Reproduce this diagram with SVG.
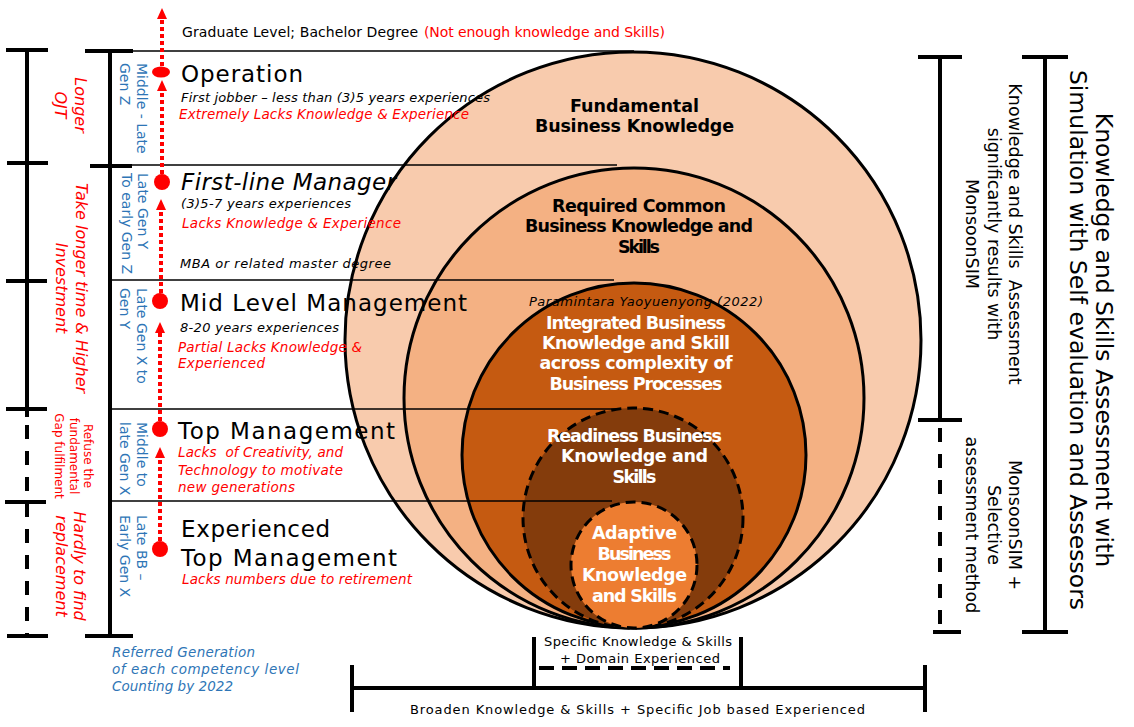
<svg xmlns="http://www.w3.org/2000/svg" width="1134" height="727" viewBox="0 0 1134 727">
<style>
text{font-family:"DejaVu Sans","Liberation Sans",sans-serif;}
.k{fill:#000}
.rd{fill:#FF0000}
.bl{fill:#2E75B6}
.it{font-style:italic}
.h{font-size:23px}
.s{font-size:13px}
.sr{font-size:13.5px}
.cl{font-size:17.5px;font-weight:bold;text-anchor:middle}
.wt{fill:#FFFFFF}
.br{stroke:#000;stroke-width:4;fill:none}
.dsh{stroke-dasharray:14 12}
.hl{stroke:#000;stroke-width:1.3;fill:none}
.circ{stroke:#000;stroke-width:3}
.dc{stroke-dasharray:10 6}
.arr{stroke:#FF0000;stroke-width:4;stroke-dasharray:4 3;fill:none;marker-end:url(#ah)}
.dot{fill:#FF0000}
</style>
<defs>
<marker id="ah" markerUnits="userSpaceOnUse" markerWidth="11" markerHeight="10" refX="0" refY="5" orient="auto"><path d="M0,0 L11,5 L0,10 z" fill="#FF0000"/></marker>
</defs>
<rect x="0" y="0" width="1134" height="727" fill="#FFFFFF"/>

<!-- concentric competency circles -->
<g id="circle-fundamental">
<circle class="circ" cx="633" cy="340" r="288" fill="#F8CBAD"/>
</g>
<g id="circle-required">
<circle class="circ" cx="634" cy="398" r="230" fill="#F4B183"/>
</g>
<g id="circle-integrated">
<circle class="circ" cx="634" cy="455" r="172" fill="#C55A11"/>
</g>
<g id="circle-readiness">
<circle class="circ dc" cx="633" cy="518" r="110" fill="#843C0C"/>
</g>
<g id="circle-adaptive">
<circle class="circ dc" cx="634" cy="565" r="63" fill="#ED7D31"/>
</g>

<!-- row separator lines -->
<g id="row-lines">
<line class="hl" x1="110" y1="51" x2="634" y2="51"/>
<line class="hl" x1="110" y1="165" x2="617" y2="165"/>
<line class="hl" x1="110" y1="280" x2="614" y2="280"/>
<line class="hl" x1="110" y1="409" x2="618" y2="409"/>
<line class="hl" x1="110" y1="501" x2="612" y2="501"/>
</g>

<!-- circle labels -->
<g id="label-fundamental">
<text class="cl k" x="634.5" y="112" textLength="129">Fundamental</text>
<text class="cl k" x="634.5" y="132" textLength="199">Business Knowledge</text>
</g>
<g id="label-required">
<text class="cl k" x="639" y="212" textLength="174">Required Common</text>
<text class="cl k" x="639" y="232" textLength="228">Business Knowledge and</text>
<text class="cl k" x="639" y="253" textLength="42">Skills</text>
</g>
<g id="label-citation">
<text class="k it" font-size="13" x="529" y="306" textLength="234">Paramintara Yaoyuenyong (2022)</text>
</g>
<g id="label-integrated">
<text class="cl wt" x="636" y="329" textLength="180">Integrated Business</text>
<text class="cl wt" x="636" y="349" textLength="188">Knowledge and Skill</text>
<text class="cl wt" x="636" y="369" textLength="193">across complexity of</text>
<text class="cl wt" x="636" y="390" textLength="173">Business Processes</text>
</g>
<g id="label-readiness">
<text class="cl wt" x="634.5" y="442" textLength="175">Readiness Business</text>
<text class="cl wt" x="634.5" y="462" textLength="147">Knowledge and</text>
<text class="cl wt" x="634.5" y="483" textLength="44">Skills</text>
</g>
<g id="label-adaptive">
<text class="cl wt" x="634.5" y="539" textLength="85">Adaptive</text>
<text class="cl wt" x="634.5" y="560" textLength="74">Business</text>
<text class="cl wt" x="634.5" y="581" textLength="105">Knowledge</text>
<text class="cl wt" x="634.5" y="602" textLength="85">and Skills</text>
</g>

<!-- left brackets -->
<g id="bracket-left-outer">
<line class="br" x1="27" y1="50" x2="27" y2="417"/>
<line class="br dsh" x1="27" y1="425" x2="27" y2="634"/>
<line class="br" x1="6" y1="50" x2="48" y2="50"/>
<line class="br" x1="7" y1="163" x2="48" y2="163"/>
<line class="br" x1="6" y1="281" x2="47" y2="281"/>
<line class="br" x1="6" y1="409" x2="47" y2="409"/>
<line class="br" x1="5" y1="502" x2="46" y2="502"/>
<line class="br" x1="7" y1="636" x2="48" y2="636"/>
</g>
<g id="bracket-left-inner">
<line class="br" x1="110" y1="51" x2="110" y2="636"/>
<line class="br" x1="85" y1="51" x2="133" y2="51"/>
<line class="br" x1="90" y1="166" x2="132" y2="166"/>
<line class="br" x1="85" y1="636" x2="133" y2="636"/>
</g>

<!-- left notes (rotated) -->
<g id="note-longer-ojt">
<text class="rd it" font-size="16" text-anchor="middle" transform="translate(75,105) rotate(90)"><tspan x="0" y="0">Longer</tspan><tspan x="0" y="20">OJT</tspan></text>
</g>
<g id="note-longer-time">
<text class="rd it" font-size="16" text-anchor="middle" transform="translate(76,288) rotate(90)"><tspan x="0" y="0">Take longer time &amp; Higher</tspan><tspan x="0" y="20">Investment</tspan></text>
</g>
<g id="note-refuse">
<text class="rd" font-size="12" text-anchor="middle" transform="translate(84,456) rotate(90)"><tspan x="0" y="0">Refuse the</tspan><tspan x="0" y="14.5">fundamental</tspan><tspan x="0" y="29">Gap fulfilment</tspan></text>
</g>
<g id="note-hardly">
<text class="rd it" font-size="16" text-anchor="middle" transform="translate(74,566) rotate(90)"><tspan x="0" y="0">Hardly to find</tspan><tspan x="0" y="18">replacement</tspan></text>
</g>

<!-- generation labels (rotated) -->
<g id="gen-operation">
<text class="bl" font-size="14" transform="translate(137,63) rotate(90)"><tspan x="0" y="0">Middle - Late</tspan><tspan x="0" y="17">Gen Z</tspan></text>
</g>
<g id="gen-firstline">
<text class="bl" font-size="14" transform="translate(138,173) rotate(90)"><tspan x="0" y="0">Late Gen Y</tspan><tspan x="0" y="16">To early Gen Z</tspan></text>
</g>
<g id="gen-midlevel">
<text class="bl" font-size="14" transform="translate(137,288) rotate(90)"><tspan x="0" y="0">Late Gen X to</tspan><tspan x="0" y="17">Gen Y</tspan></text>
</g>
<g id="gen-top">
<text class="bl" font-size="14" transform="translate(137,422) rotate(90)"><tspan x="0" y="0">Middle to</tspan><tspan x="0" y="17">late Gen X</tspan></text>
</g>
<g id="gen-experienced">
<text class="bl" font-size="14" transform="translate(137,515) rotate(90)"><tspan x="0" y="0">Late BB –</tspan><tspan x="0" y="17">Early Gen X</tspan></text>
</g>

<!-- level rows -->
<g id="level-graduate">
<text class="k" font-size="14" x="182" y="37" textLength="236">Graduate Level; Bachelor Degree</text>
<text class="rd" font-size="14" x="424" y="37" textLength="241">(Not enough knowledge and Skills)</text>
</g>
<g id="level-operation">
<text class="k h" x="181" y="82" textLength="122">Operation</text>
<text class="k it s" x="181" y="102" textLength="309">First jobber – less than (3)5 years experiences</text>
<text class="rd it sr" x="179" y="119" textLength="290">Extremely Lacks Knowledge &amp; Experience</text>
</g>
<g id="level-firstline">
<text class="k it h" x="181" y="190" textLength="215">First-line Manager</text>
<text class="k it s" x="181" y="208" textLength="170">(3)5-7 years experiences</text>
<text class="rd it sr" x="182" y="228" textLength="219">Lacks Knowledge &amp; Experience</text>
<text class="k it s" x="180" y="268" textLength="211">MBA or related master degree</text>
</g>
<g id="level-midlevel">
<text class="k h" x="180" y="311" textLength="287">Mid Level Management</text>
<text class="k it s" x="180" y="332" textLength="159">8-20 years experiences</text>
<text class="rd it sr" x="178" y="352" textLength="184">Partial Lacks Knowledge &amp;</text>
<text class="rd it sr" x="178" y="368" textLength="87">Experienced</text>
</g>
<g id="level-top">
<text class="k h" x="178" y="439" textLength="217">Top Management</text>
<text class="rd it sr" x="178" y="457" textLength="165" xml:space="preserve">Lacks  of Creativity, and</text>
<text class="rd it sr" x="178" y="475" textLength="165">Technology to motivate</text>
<text class="rd it sr" x="178" y="492" textLength="117">new generations</text>
</g>
<g id="level-experienced">
<text class="k h" x="181" y="537" textLength="149">Experienced</text>
<text class="k h" x="181" y="566" textLength="216">Top Management</text>
<text class="rd it sr" x="182" y="584" textLength="230">Lacks numbers due to retirement</text>
</g>

<!-- legend bottom-left -->
<g id="legend-generation">
<text class="bl it" font-size="13.5" x="112" y="657" textLength="143">Referred Generation</text>
<text class="bl it" font-size="13.5" x="112" y="674" textLength="187">of each competency level</text>
<text class="bl it" font-size="13.5" x="112" y="691" textLength="121">Counting by 2022</text>
</g>

<!-- right brackets -->
<g id="bracket-right-inner">
<line class="br" x1="940" y1="57" x2="940" y2="420"/>
<line class="br dsh" x1="940" y1="428" x2="940" y2="628"/>
<line class="br" x1="918" y1="57" x2="962" y2="57"/>
<line class="br" x1="918" y1="420" x2="962" y2="420"/>
<line class="br" x1="933" y1="632" x2="961" y2="632"/>
</g>
<g id="bracket-right-outer">
<line class="br" x1="1045" y1="57" x2="1045" y2="632"/>
<line class="br" x1="1022" y1="57" x2="1068" y2="57"/>
<line class="br" x1="1022" y1="632" x2="1068" y2="632"/>
</g>
<g id="note-assessment-main">
<text class="k" font-size="23.5" text-anchor="middle" transform="translate(1096,340) rotate(90)"><tspan x="0" y="0">Knowledge and Skills Assessment with</tspan><tspan x="0" y="26">Simulation with Self evaluation and Assessors</tspan></text>
</g>
<g id="note-assessment-monsoonsim">
<text class="k" font-size="17.5" text-anchor="middle" xml:space="preserve" transform="translate(1009,234) rotate(90)"><tspan x="0" y="0">Knowledge and Skills  Assessment</tspan><tspan x="0" y="21.5">significantly results with</tspan><tspan x="0" y="43">MonsoonSIM</tspan></text>
</g>
<g id="note-assessment-selective">
<text class="k" font-size="17.5" text-anchor="middle" transform="translate(1009,525) rotate(90)"><tspan x="0" y="0">MonsoonSIM +</tspan><tspan x="0" y="21.5">Selective</tspan><tspan x="0" y="43">assessment method</tspan></text>
</g>

<!-- bottom brackets -->
<g id="bracket-bottom-specific">
<line class="br" x1="534" y1="637" x2="534" y2="688"/>
<line class="br" x1="741" y1="637" x2="741" y2="688"/>
<line class="br" x1="539" y1="668" x2="730" y2="668" stroke-dasharray="15 8"/>
<text class="k" font-size="13" text-anchor="middle" x="638" y="646" textLength="188">Specific Knowledge &amp; Skills</text>
<text class="k" font-size="13" text-anchor="middle" x="640" y="663" textLength="160">+ Domain Experienced</text>
</g>
<g id="bracket-bottom-broaden">
<line class="br" x1="352" y1="688" x2="925" y2="688"/>
<line class="br" x1="352" y1="665" x2="352" y2="712"/>
<line class="br" x1="925" y1="665" x2="925" y2="712"/>
<text class="k" font-size="13" text-anchor="middle" x="637.5" y="714" textLength="455">Broaden Knowledge &amp; Skills + Specific Job based Experienced</text>
</g>

<!-- progression connectors -->
<g id="connectors">
<line class="arr" x1="162" y1="66" x2="162" y2="19"/>
<line class="arr" x1="162" y1="174" x2="162" y2="91"/>
<line class="arr" x1="161" y1="293" x2="161" y2="210"/>
<line class="arr" x1="160" y1="421" x2="160" y2="333"/>
<line class="arr" x1="160" y1="541" x2="160" y2="458"/>
</g>
<g id="markers">
<ellipse class="dot" cx="161" cy="72" rx="9" ry="5.5"/>
<circle class="dot" cx="162" cy="182" r="8"/>
<circle class="dot" cx="160" cy="301" r="8"/>
<circle class="dot" cx="160" cy="429" r="8"/>
<circle class="dot" cx="160" cy="549" r="8"/>
</g>
</svg>
